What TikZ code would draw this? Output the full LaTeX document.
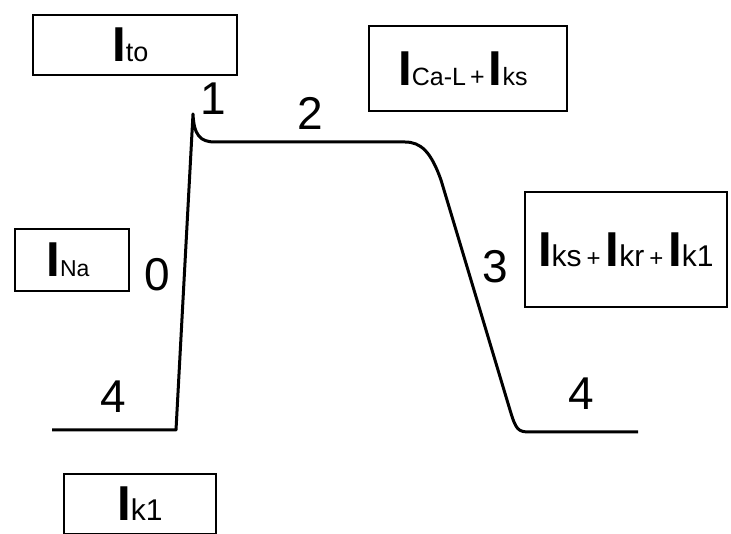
\documentclass[tikz,border=0pt]{standalone}
\usepackage{fontspec}
\setmainfont{Liberation Sans}
\newcommand\cur[2]{{\fontsize{49}{49}\selectfont\bfseries I}{\fontsize{#1}{#1}\selectfont #2}}
\newcommand\plussign[1]{{\fontsize{#1}{#1}\selectfont +}}
\begin{document}
\begin{tikzpicture}[x=1pt,y=-1pt,
  curbox/.style={draw,line width=1.8pt,inner sep=0pt,anchor=north west,align=center},
  phase/.style={font=\fontsize{46}{46}\selectfont,inner sep=0pt},
  trace/.style={line width=3pt,line join=round}]
\useasboundingbox (0,0) rectangle (731,534);

% current boxes
\node[curbox,minimum width=204pt,minimum height=60pt] (ito) at (32,14) {\cur{27}{to}\hspace{9pt}};
\node[curbox,minimum width=198pt,minimum height=85pt] (ical) at (368,25) {\cur{25}{Ca-L\,+\,}\cur{25}{ks}\hspace{10pt}};
\node[curbox,minimum width=114pt,minimum height=62pt] (ina) at (14,228) {\cur{23}{Na}\hspace{8pt}};
\node[curbox,minimum width=202pt,minimum height=115pt] (ik) at (524,191) {\cur{30}{ks\,\plussign{24}\,}\cur{30}{kr\,\plussign{24}\,}\cur{30}{k1}};
\node[curbox,minimum width=152pt,minimum height=60pt] (ikone) at (63,473) {\cur{30}{k1}};

% phase numbers
\node[phase] (p0) at (157,275) {0};
\node[phase] (p1) at (213,99) {1};
\node[phase] (p2) at (310,113) {2};
\node[phase] (p3) at (495,267) {3};
\node[phase] (p4a) at (113,397) {4};
\node[phase] (p4b) at (581,394) {4};

% action potential trace
\draw[trace] (52,430) -- (176,430) -- (193,114)
  .. controls (194,135) and (200,142) .. (215,142)
  -- (405,142)
  .. controls (421,142) and (431,152) .. (441,180)
  -- (510,410)
  .. controls (516,430) and (518,432) .. (530,432)
  -- (638,432);
\end{tikzpicture}
\end{document}
